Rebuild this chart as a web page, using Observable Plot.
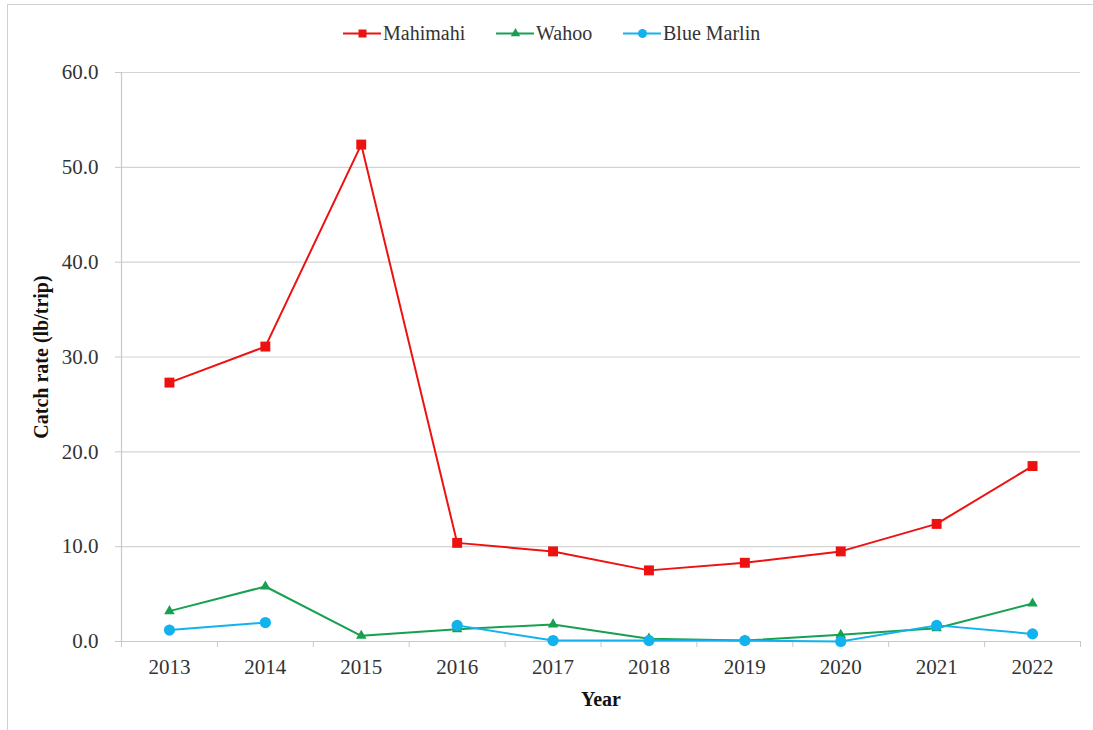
<!DOCTYPE html>
<html>
<head>
<meta charset="utf-8">
<script src="https://cdn.jsdelivr.net/npm/d3@7"></script>
<script src="https://cdn.jsdelivr.net/npm/@observablehq/plot@0.6"></script>
<style>
  html, body { margin: 0; padding: 0; background: #fff; }
  #wrap { position: absolute; left: 7px; top: 4px; width: 1086px; height: 726px;
          border-left: 1.5px solid #d0d0d0; border-top: 1.5px solid #d0d0d0; box-sizing: border-box; }
  #legend { position: absolute; left: 0; top: 0; width: 1093px; height: 61px;
            font-family: "Liberation Serif", serif; font-size: 20px; color: #333; }
  #legend .item { position: absolute; top: 20px; display: flex; align-items: center; height: 26px; }
  #legend svg { margin-right: 2px; }
  #chart { position: absolute; left: 0; top: 61px; }
  #chart g[aria-label="y-axis label"] text, #chart g[aria-label="x-axis label"] text { font-weight: bold; font-size: 20px; fill: #111; }
</style>
</head>
<body>
<div id="wrap"></div>
<div id="legend"></div>
<div id="chart"></div>
<script>
const years = [2013, 2014, 2015, 2016, 2017, 2018, 2019, 2020, 2021, 2022];
const mahimahi = [27.3, 31.1, 52.4, 10.4, 9.5, 7.5, 8.3, 9.5, 12.4, 18.5];
const wahoo = [3.2, 5.8, 0.6, 1.3, 1.8, 0.3, 0.1, 0.7, 1.4, 4.0];
const blueMarlin = [1.2, 2.0, null, 1.7, 0.1, 0.1, 0.1, 0.0, 1.7, 0.8];
const yTicks = [0, 10, 20, 30, 40, 50, 60];
const seriesNames = ["Mahimahi", "Wahoo", "Blue Marlin"];
const seriesColors = ["#ee1111", "#17a050", "#12b2ee"];
const seriesSymbols = ["square", "triangle", "circle"];

const seriesValues = [mahimahi, wahoo, blueMarlin];
const data = [];
seriesNames.forEach((name, i) => {
  years.forEach((yr, j) => data.push({series: name, year: yr, value: seriesValues[i][j]}));
});
const boundaries = years.map(y => y - 0.5).concat([years[years.length - 1] + 0.5]);
const xDomain = [boundaries[0], boundaries[boundaries.length - 1]];
const dotR = [5.6, 3.9, 5.6];

const marks = [
  Plot.gridY(yTicks, {stroke: "#d4d4d4", strokeOpacity: 1, strokeWidth: 1.2}),
  Plot.ruleX([xDomain[0]], {y1: 0, y2: 60, stroke: "#c8c8c8", strokeWidth: 1.2}),
  Plot.ruleY([0], {stroke: "#c8c8c8", strokeWidth: 1.2}),
  Plot.axisY({ticks: yTicks, tickSize: 6, tickPadding: 17, tickFormat: d => d.toFixed(1),
    fontSize: 21, stroke: "#c8c8c8", fill: "#333", label: "Catch rate (lb/trip)", labelAnchor: "center",
    labelArrow: "none", labelOffset: 88}),
  Plot.axisX({ticks: boundaries, tickSize: 6, tickFormat: () => "", stroke: "#c8c8c8", label: null}),
  Plot.axisX({ticks: years, tickSize: 0, tickPadding: 18, tickFormat: d => String(d),
    fontSize: 21, fill: "#333", label: "Year", labelAnchor: "center", labelArrow: "none", labelOffset: 64})
];
seriesNames.forEach((name, i) => {
  const sub = data.filter(d => d.series === name);
  marks.push(Plot.line(sub, {x: "year", y: "value", stroke: seriesColors[i], strokeWidth: 2}));
  marks.push(Plot.dot(sub.filter(d => d.value != null), {x: "year", y: "value", fill: seriesColors[i],
    symbol: seriesSymbols[i], r: dotR[i], stroke: "none"}));
});

const chart = Plot.plot({
  width: 1093,
  height: 660,
  marginLeft: 121,
  marginRight: 13,
  marginTop: 11,
  marginBottom: 80,
  style: {fontFamily: "'Liberation Serif', serif", fontSize: "21px", background: "transparent", color: "#333"},
  x: {type: "linear", domain: xDomain},
  y: {domain: [0, 60]},
  marks
});
document.getElementById("chart").appendChild(chart);

// legend
const legend = document.getElementById("legend");
const legendX = [343, 496, 623];
seriesNames.forEach((name, i) => {
  const item = document.createElement("div");
  item.className = "item";
  item.style.left = legendX[i] + "px";
  const sym = Plot.plot({
    width: 38, height: 26, margin: 0,
    x: {domain: [0, 1], axis: null}, y: {domain: [0, 1], axis: null},
    style: {background: "transparent"},
    marks: [
      Plot.ruleY([0.5], {x1: 0, x2: 1, stroke: seriesColors[i], strokeWidth: 2}),
      Plot.dot([{x: 0.5, y: 0.5}], {x: "x", y: "y", fill: seriesColors[i], symbol: seriesSymbols[i], r: [4.5, 3.5, 4.5][i]})
    ]
  });
  item.appendChild(sym);
  const label = document.createElement("span");
  label.textContent = name;
  item.appendChild(label);
  legend.appendChild(item);
});
</script>
</body>
</html>
